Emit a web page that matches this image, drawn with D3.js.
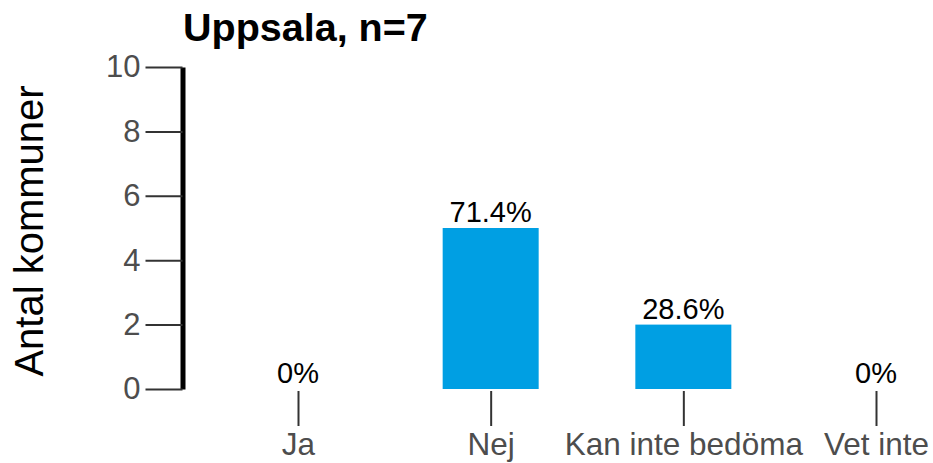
<!DOCTYPE html>
<html lang="en">
<head>
    <meta charset="UTF-8">
    <title>Uppsala, n=7</title>
    <style>
        body {
            margin: 0;
            background-color: #ffffff;
            overflow: hidden;
            font-family: "Liberation Sans", Arial, sans-serif;
        }
        .y-axis .domain {
            stroke: #000000;
            stroke-width: 5px;
        }
        .axis line {
            stroke: #333333;
            stroke-width: 2px;
        }
        .axis text {
            fill: #4d4d4d;
            font-family: "Liberation Sans", Arial, sans-serif;
        }
        .y-axis text {
            font-size: 31px;
        }
        .x-axis text {
            font-size: 31.5px;
        }
        .bar {
            fill: #009fe3;
        }
        .value-label {
            fill: #000000;
            font-size: 29px;
        }
        .title {
            font-size: 39.5px;
            font-weight: bold;
        }
        .axis-title {
            font-size: 40px;
        }
    </style>
</head>
<body>
    <svg id="chart" width="933" height="463"></svg>

    <script src="https://d3js.org/d3.v7.min.js"></script>
    <script>
        // chart data
        const categories = ["Ja", "Nej", "Kan inte bedöma", "Vet inte"];
        const counts = [0, 5, 2, 0];
        const percentLabels = ["0%", "71.4%", "28.6%", "0%"];
        const yTicks = [0, 2, 4, 6, 8, 10];

        const svg = d3.select("#chart");

        const y = d3.scaleLinear()
            .domain([0, 10])
            .range([389, 67]);

        const x = d3.scalePoint()
            .domain(categories)
            .range([298, 876]);

        const barWidth = 96;

        // Title
        svg.append("text")
            .attr("class", "title")
            .attr("x", 183)
            .attr("y", 41)
            .text("Uppsala, n=7");

        // Y axis title
        svg.append("text")
            .attr("class", "axis-title")
            .attr("transform", "translate(43,231) rotate(-90)")
            .style("text-anchor", "middle")
            .text("Antal kommuner");

        // Y axis
        svg.append("g")
            .attr("class", "axis y-axis")
            .attr("transform", "translate(182.5,0)")
            .call(d3.axisLeft(y).tickValues(yTicks).tickSize(37).tickSizeOuter(0).tickPadding(5));

        // X axis (ticks only, no line)
        const xAxis = svg.append("g")
            .attr("class", "axis x-axis")
            .attr("transform", "translate(0,391)")
            .call(d3.axisBottom(x).tickSize(35).tickPadding(7));
        xAxis.select(".domain").remove();

        // Bars
        svg.selectAll(".bar")
            .data(counts)
            .enter().append("rect")
            .attr("class", "bar")
            .attr("x", (d, i) => x(categories[i]) - barWidth / 2)
            .attr("y", d => y(d))
            .attr("width", barWidth)
            .attr("height", d => y(0) - y(d));

        // Value labels
        svg.selectAll(".value-label")
            .data(counts)
            .enter().append("text")
            .attr("class", "value-label")
            .attr("x", (d, i) => x(categories[i]))
            .attr("y", d => y(d) - 6)
            .style("text-anchor", "middle")
            .text((d, i) => percentLabels[i]);
    </script>
</body>
</html>
